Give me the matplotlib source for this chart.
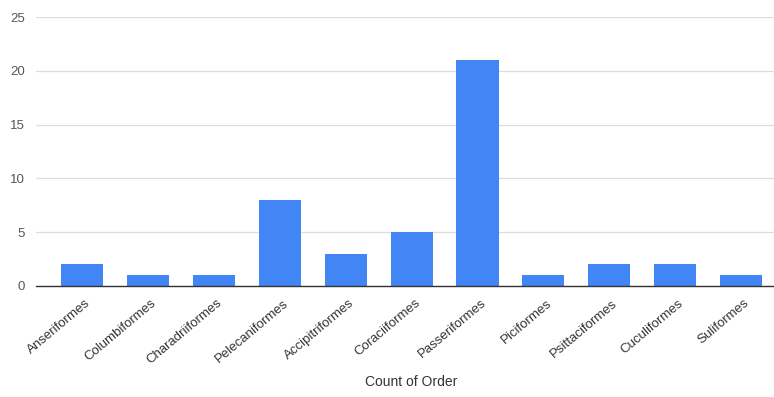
import matplotlib
matplotlib.use("Agg")
import matplotlib.pyplot as plt
import matplotlib.transforms as mtransforms

categories = ["Anseriformes", "Columbiformes", "Charadriiformes", "Pelecaniformes",
              "Accipitriformes", "Coraciiformes", "Passeriformes", "Piciformes",
              "Psittaciformes", "Cuculiformes", "Suliformes"]
counts = [2, 1, 1, 8, 3, 5, 21, 1, 2, 2, 1]
yticks = [0, 5, 10, 15, 20, 25]

plt.rcParams['font.family'] = ['Liberation Sans', 'DejaVu Sans']
fig = plt.figure(figsize=(7.74, 3.97), dpi=100)
ax = fig.add_axes([36 / 774, 1 - 286 / 397, 1 - 36 / 774, (286 - 17) / 397])
x = list(range(len(categories)))
ax.bar(x, counts, width=0.64, color="#4285F4", zorder=3)
ax.set_xlim(-0.70, 10.5)
ax.set_ylim(0, 25)
ax.set_yticks(yticks)
ax.set_yticklabels([str(t) for t in yticks], fontsize=9.5, color="#555555")
ax.set_xticks(x)
ax.set_xticklabels(categories, rotation=40, ha="right", rotation_mode="anchor",
                   fontsize=9.5, color="#333333")
ax.tick_params(axis="y", length=0, pad=8)
ax.tick_params(axis="x", length=0, pad=8)
offset = mtransforms.ScaledTranslation(3 / 100, 0, fig.dpi_scale_trans)
for lab in ax.get_xticklabels():
    lab.set_transform(lab.get_transform() + offset)
ax.grid(axis="y", color="#dddddd", linewidth=0.9, zorder=0)
for s in ["top", "right", "left"]:
    ax.spines[s].set_visible(False)
ax.spines["bottom"].set_color("#333333")
ax.spines["bottom"].set_linewidth(1.0)
ax.spines["bottom"].set_zorder(4)
fig.text(411 / 774, 1 - 382 / 397, "Count of Order", ha="center", va="center",
         fontsize=10, color="#333333")
fig.savefig("out.png", dpi=100)
